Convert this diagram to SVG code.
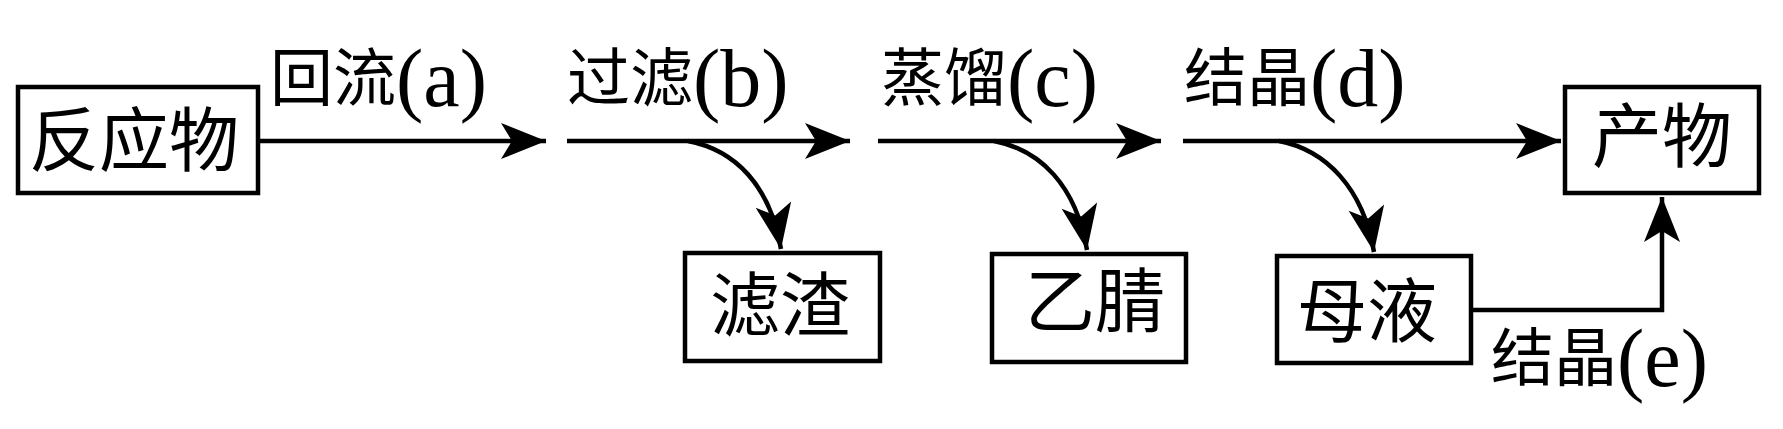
<svg xmlns="http://www.w3.org/2000/svg" width="1783" height="429" viewBox="0 0 1783 429">
<style>
.box{fill:#fff;stroke:#000;stroke-width:4.5}
.edge{fill:none;stroke:#000;stroke-width:4.5}
.t{font-family:"Liberation Serif","Noto Sans CJK SC",serif;fill:#000}
.cjk{font-family:"Noto Sans CJK SC","Liberation Serif",sans-serif}
.nt{font-size:70px}
.lc{font-size:63px}
.ll{font-family:"Liberation Serif",serif;font-size:82px}
</style>
<defs>
<marker id="ah" markerUnits="userSpaceOnUse" markerWidth="50" markerHeight="40" viewBox="-46 -20 48 40" refX="0" refY="0" orient="auto">
<path d="M0,0 L-45,-18 L-34,0 L-45,18 Z" fill="#000"/>
</marker>
</defs>
<rect width="1783" height="429" fill="#fff"/>
<g id="connectors">
<line class="edge" x1="260" y1="141" x2="546" y2="141" marker-end="url(#ah)"/>
<line class="edge" x1="567" y1="141" x2="850" y2="141" marker-end="url(#ah)"/>
<line class="edge" x1="878" y1="141" x2="1161" y2="141" marker-end="url(#ah)"/>
<line class="edge" x1="1183" y1="141" x2="1561" y2="141" marker-end="url(#ah)"/>
<path class="edge" d="M688,141 C735,150 770,185 781,249" marker-end="url(#ah)"/>
<path class="edge" d="M994,141 C1041,150 1076,186 1087,250" marker-end="url(#ah)"/>
<path class="edge" d="M1279,141 C1326,150 1363,188 1374,252" marker-end="url(#ah)"/>
<path class="edge" d="M1473,310 L1662,310 L1662,197" marker-end="url(#ah)"/>
<text class="t" x="270" y="100"><tspan class="cjk lc">回流</tspan><tspan class="ll" dy="6">(a)</tspan></text>
<text class="t" x="567" y="100"><tspan class="cjk lc">过滤</tspan><tspan class="ll" dy="6">(b)</tspan></text>
<text class="t" x="881" y="100"><tspan class="cjk lc">蒸馏</tspan><tspan class="ll" dy="6">(c)</tspan></text>
<text class="t" x="1184" y="100"><tspan class="cjk lc">结晶</tspan><tspan class="ll" dy="6">(d)</tspan></text>
<text class="t" x="1491" y="380"><tspan class="cjk lc">结晶</tspan><tspan class="ll" dy="6">(e)</tspan></text>
</g>
<g id="n-reactant">
<rect class="box" x="18" y="87" width="240" height="106"/>
<text class="t cjk nt" x="29" y="166">反应物</text>
</g>
<g id="n-residue">
<rect class="box" x="685" y="253" width="195" height="108"/>
<text class="t cjk nt" x="710" y="331">滤渣</text>
</g>
<g id="n-acetonitrile">
<rect class="box" x="992" y="254" width="194" height="108"/>
<text class="t cjk nt" x="1025" y="327">乙腈</text>
</g>
<g id="n-mother">
<rect class="box" x="1277" y="256" width="194" height="107"/>
<text class="t cjk nt" x="1297" y="337">母液</text>
</g>
<g id="n-product">
<rect class="box" x="1565" y="87" width="194" height="106"/>
<text class="t cjk nt" x="1592" y="162">产物</text>
</g>
</svg>
